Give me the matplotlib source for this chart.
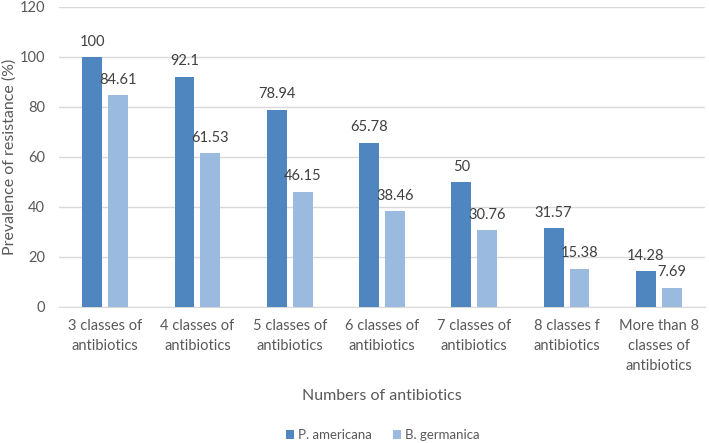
import numpy as np
import matplotlib.pyplot as plt

categories = ['3 classes of\nantibiotics', '4 classes of\nantibiotics', '5 classes of\nantibiotics',
              '6 classes of\nantibiotics', '7 classes of\nantibiotics', '8 classes f\nantibiotics',
              'More than 8\nclasses of\nantibiotics']
p_americana = [100, 92.1, 78.94, 65.78, 50, 31.57, 14.28]
b_germanica = [84.61, 61.53, 46.15, 38.46, 30.76, 15.38, 7.69]
p_labels = ['100', '92.1', '78.94', '65.78', '50', '31.57', '14.28']
b_labels = ['84.61', '61.53', '46.15', '38.46', '30.76', '15.38', '7.69']

plt.rcParams['font.family'] = ['Lato', 'DejaVu Sans']
text_color = '#595959'

fig = plt.figure(figsize=(7.09, 4.43), dpi=100)
ax = fig.add_axes([59 / 709, 1 - 307 / 443, 646 / 709, 300 / 443])

x = np.arange(len(categories))
w = 0.215
off = 0.14
b1 = ax.bar(x - off, p_americana, w, color='#4f86bf', label='P. americana', zorder=3)
b2 = ax.bar(x + off, b_germanica, w, color='#9bbadf', label='B. germanica', zorder=3)
ax.bar_label(b1, labels=p_labels, padding=6, fontsize=10.5, color='#404040')
ax.bar_label(b2, labels=b_labels, padding=6, fontsize=10.5, color='#404040')

ax.set_ylim(0, 120)
ax.set_xlim(-0.5, len(categories) - 0.5)
ax.set_yticks(range(0, 121, 20))
ax.set_xticks(x)
ax.set_xticklabels(categories, linespacing=1.5)
ax.yaxis.grid(True, color='#d9d9d9', linewidth=1, zorder=0)
ax.tick_params(length=0, labelsize=10.5, colors=text_color)
ax.tick_params(axis='x', pad=9)
ax.tick_params(axis='y', pad=10)
for s in ['top', 'right', 'left']:
    ax.spines[s].set_visible(False)
ax.spines['bottom'].set_color('#d9d9d9')

ax.set_ylabel('Prevalence of resistance (%)', fontsize=11.5, color=text_color)
ax.yaxis.set_label_coords(-42 / 646, 0.5)
ax.set_xlabel('Numbers of antibiotics', fontsize=11.5, color=text_color)
ax.xaxis.set_label_coords(0.5, -82 / 300)

fig.legend(loc='center', bbox_to_anchor=(383 / 709, 1 - 435 / 443), ncol=2, frameon=False,
           fontsize=9.5, handlelength=0.6, handleheight=0.6, columnspacing=1.6,
           handletextpad=0.3, labelcolor=text_color)

fig.savefig('out.png', dpi=100)
